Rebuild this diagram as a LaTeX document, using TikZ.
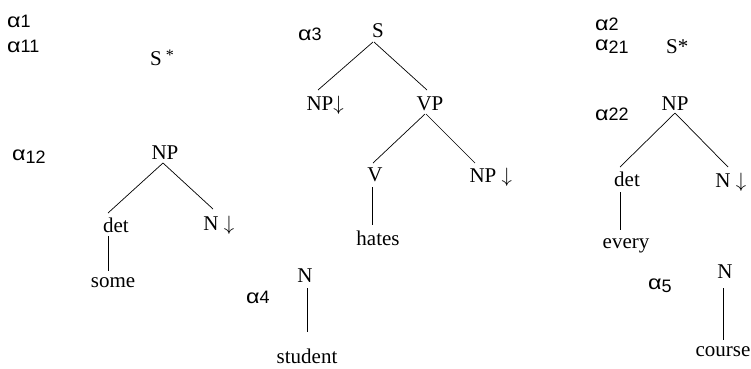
\documentclass[tikz,border=0pt]{standalone}
\usepackage{fontspec}
\usepackage{graphicx}
\setmainfont{Liberation Serif}
\newfontfamily\lblfont{Liberation Sans}
\newcommand{\dnarr}{\rlap{\fontsize{21}{24}\selectfont$\downarrow$}}
\newcommand{\spdnarr}{\rlap{\ \fontsize{21}{24}\selectfont$\downarrow$}}
\newcommand{\footstar}{\rlap{\hspace{4pt}\raisebox{5pt}{\fontsize{16}{18}\selectfont *}}}
\newcommand{\alf}{\scalebox{1.3}[1.1]{α}}
\newcommand{\lowsub}[1]{\raisebox{-3pt}{#1}}
\begin{document}
\begin{tikzpicture}[x=1pt,y=-1pt,
  cat/.style={font=\fontsize{21}{24}\selectfont, inner sep=0pt, anchor=base},
  lbl/.style={font=\lblfont\fontsize{18}{20}\selectfont, inner sep=0pt, anchor=base west},
  branch/.style={line width=0.7pt}]
\useasboundingbox (0,0) rectangle (751,368);

% ---- alpha 1 : S* and the NP "some" tree
\node[lbl] (a1)  at (7,27)  {\alf1};
\node[lbl] (a11) at (7,52)  {\alf11};
\node[cat] (s1)  at (156,65) {S\footstar};
\node[lbl] (a12) at (12,160) {\alf\lowsub{12}};
\node[cat] (np2) at (165,159) {NP};
\node[cat] (det2) at (116,232) {det};
\node[cat] (n2)  at (211,230) {N\spdnarr};
\node[cat] (some) at (113,287) {some};
\draw[branch] ([shift={(-2,4)}]np2.base) -- ([shift={(-8,-19)}]det2.base);
\draw[branch] ([shift={(-2,4)}]np2.base) -- ([shift={(2,-21)}]n2.base);
\draw[branch] ([shift={(-8,4)}]det2.base) -- ([shift={(-5,-16)}]some.base);

% ---- alpha 4 : student
\node[lbl] (a4) at (246,303) {\alf4};
\node[cat] (n4) at (305,282) {N};
\node[cat] (student) at (307,363) {student};
\draw[branch] ([shift={(2,6)}]n4.base) -- ([shift={(0,-31)}]student.base);

% ---- alpha 3 : hates
\node[lbl] (a3) at (298,40) {\alf3};
\node[cat] (s3) at (378,37) {S};
\node[cat] (npl) at (320,110) {NP\dnarr};
\node[cat] (vp) at (430,110) {VP};
\node[cat] (v) at (375,181) {V};
\node[cat] (npr) at (483,182) {NP\spdnarr};
\node[cat] (hates) at (378,245) {hates};
\draw[branch] ([shift={(-5,5)}]s3.base) -- ([shift={(-2,-20)}]npl.base);
\draw[branch] ([shift={(-4,5)}]s3.base) -- ([shift={(-3,-20)}]vp.base);
\draw[branch] ([shift={(-5,4)}]vp.base) -- ([shift={(-2,-18)}]v.base);
\draw[branch] ([shift={(-4,4)}]vp.base) -- ([shift={(-8,-19)}]npr.base);
\draw[branch] ([shift={(-3,6)}]v.base) -- ([shift={(-6,-20)}]hates.base);

% ---- alpha 2 : S* and the NP "every" tree
\node[lbl] (a2)  at (595,30) {\alf2};
\node[lbl] (a21) at (595,50) {\alf\lowsub{21}};
\node[cat] (s5)  at (672,53) {S\rlap{*}};
\node[lbl] (a22) at (595,120) {\alf22};
\node[cat] (np5) at (675,110) {NP};
\node[cat] (det5) at (627,186) {det};
\node[cat] (n5) at (723,187) {N\spdnarr};
\node[cat] (every) at (626,248) {every};
\draw[branch] ([shift={(0,3)}]np5.base) -- ([shift={(-7,-19)}]det5.base);
\draw[branch] ([shift={(0,3)}]np5.base) -- ([shift={(5,-20)}]n5.base);
\draw[branch] ([shift={(-7,6)}]det5.base) -- ([shift={(-6,-18)}]every.base);

% ---- alpha 5 : course
\node[lbl] (a5) at (648,289) {\alf\lowsub{5}};
\node[cat] (n6) at (725,278) {N};
\node[cat] (course) at (723,356) {course};
\draw[branch] ([shift={(-2,10)}]n6.base) -- ([shift={(0,-16)}]course.base);
\end{tikzpicture}
\end{document}
